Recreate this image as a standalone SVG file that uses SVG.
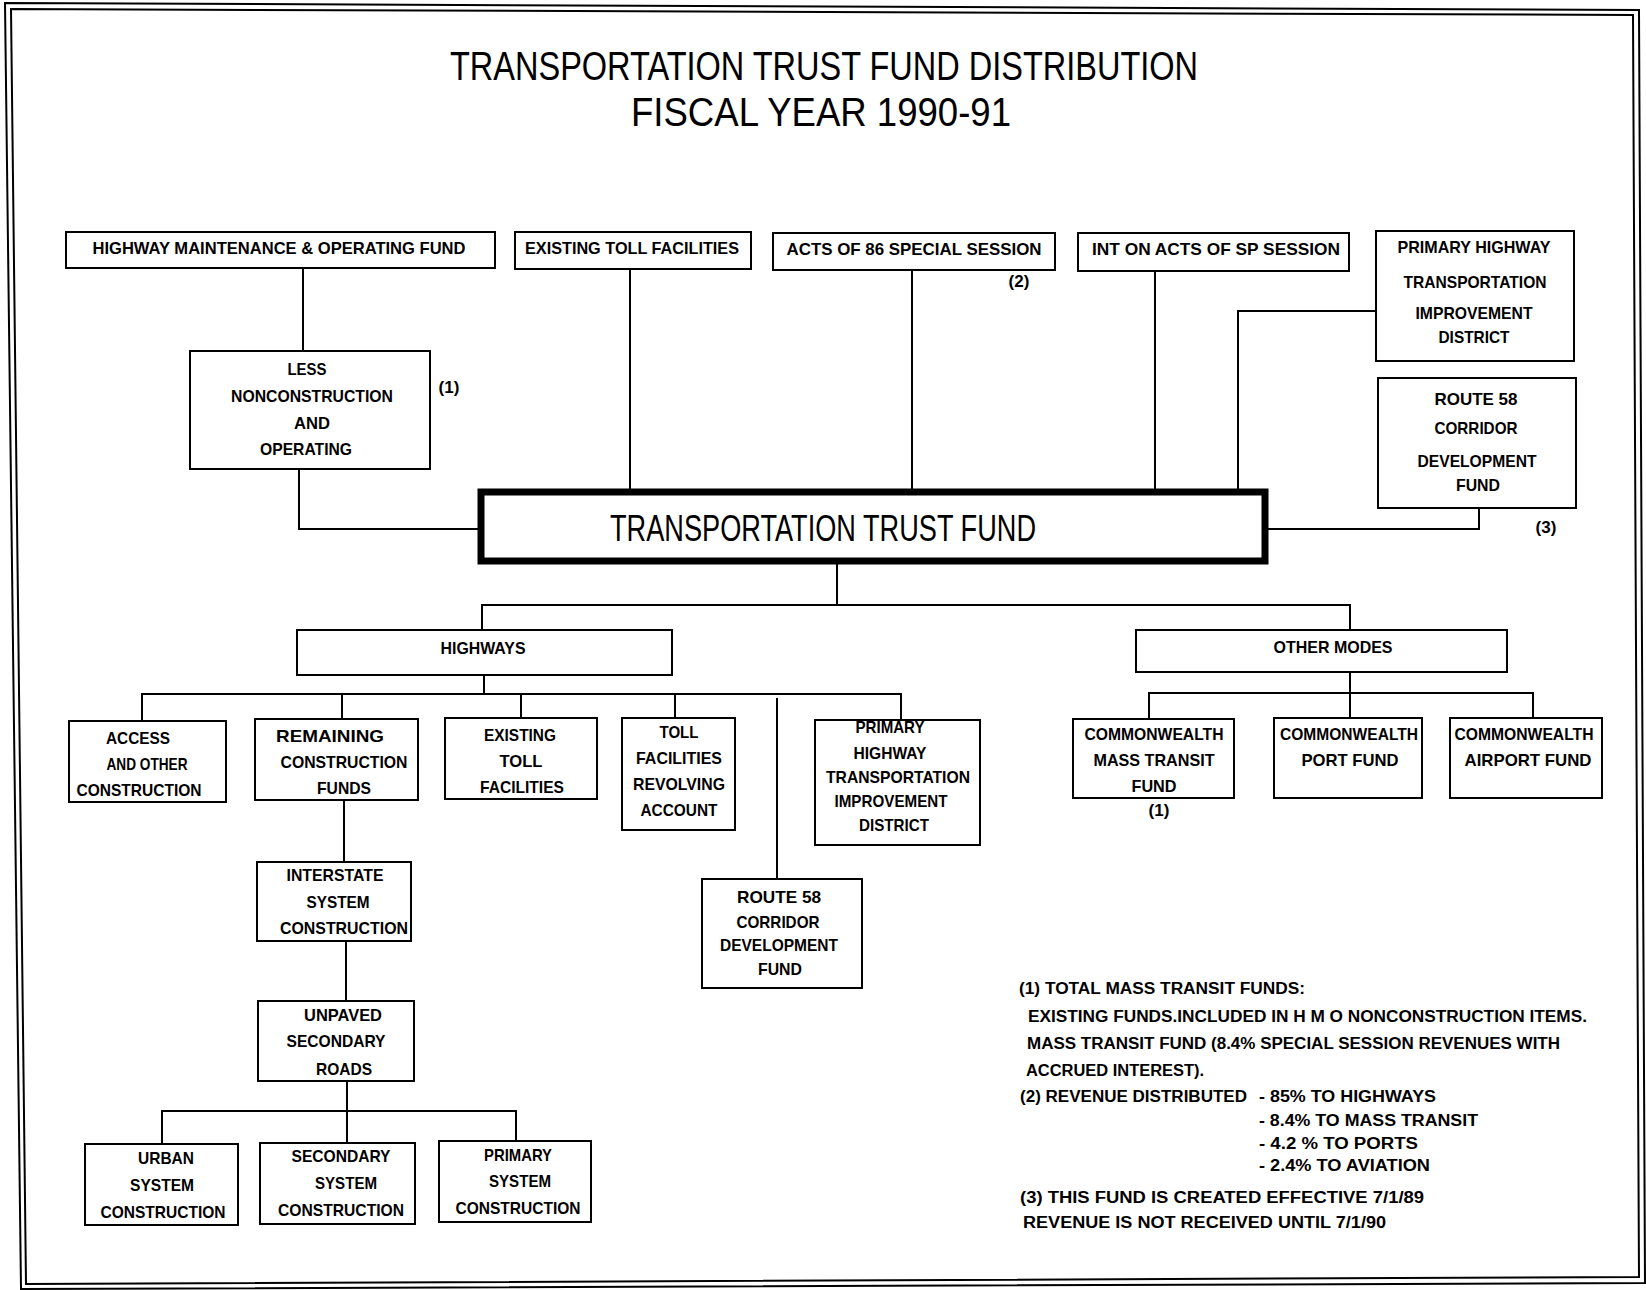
<svg xmlns="http://www.w3.org/2000/svg" width="1646" height="1290" viewBox="0 0 1646 1290">
<style>
.bx{fill:none;stroke:#000;stroke-width:2}
.c{fill:none;stroke:#000;stroke-width:2}
.t{font-family:"Liberation Sans",Arial,sans-serif;font-weight:bold;font-size:17px;text-anchor:middle;fill:#000}
.n{font-family:"Liberation Sans",Arial,sans-serif;font-weight:bold;font-size:16px;fill:#000}
.h{font-family:"Liberation Sans",Arial,sans-serif;font-size:40px;text-anchor:middle;fill:#000}
</style>
<rect width="1646" height="1290" fill="#fff"/>
<g id="border" fill="none" stroke="#000" stroke-width="2">
<polygon points="5,3 1639,10 1645,1283 21,1289"/>
<polygon points="11,9 1633,15 1639,1277 26,1284"/>
</g>
<g id="title">
<text class="h" x="824" y="80" textLength="748" lengthAdjust="spacingAndGlyphs">TRANSPORTATION TRUST FUND DISTRIBUTION</text>
<text class="h" x="821" y="126" textLength="380" lengthAdjust="spacingAndGlyphs">FISCAL YEAR 1990-91</text>
</g>
<g id="connectors">
<path class="c" d="M303 268V351"/>
<path class="c" d="M299 469V529H478"/>
<path class="c" d="M630 269V489"/>
<path class="c" d="M912 270V489"/>
<path class="c" d="M1155 271V489"/>
<path class="c" d="M1376 311H1238V489"/>
<path class="c" d="M1479 508V529H1268"/>
<path class="c" d="M837 564V605"/>
<path class="c" d="M482 630V605H1350V630"/>
<path class="c" d="M484 675V694"/>
<path class="c" d="M142 721V694H901V720"/>
<path class="c" d="M342 694V719"/>
<path class="c" d="M521 694V718"/>
<path class="c" d="M675 694V718"/>
<path class="c" d="M777 698V879"/>
<path class="c" d="M344 800V862"/>
<path class="c" d="M346 941V1001"/>
<path class="c" d="M347 1081V1143"/>
<path class="c" d="M162 1144V1111H516V1141"/>
<path class="c" d="M1350 672V718"/>
<path class="c" d="M1149 719V693H1533V718"/>
</g>
<g id="hmo"><rect class="bx" x="66" y="232" width="429" height="36"/><text class="t" x="279" y="254" textLength="373" lengthAdjust="spacingAndGlyphs">HIGHWAY MAINTENANCE &amp; OPERATING FUND</text></g>
<g id="etf"><rect class="bx" x="515" y="232" width="236" height="37"/><text class="t" x="632" y="254" textLength="214" lengthAdjust="spacingAndGlyphs">EXISTING TOLL FACILITIES</text></g>
<g id="acts"><rect class="bx" x="773" y="233" width="282" height="37"/><text class="t" x="914" y="255" textLength="255" lengthAdjust="spacingAndGlyphs">ACTS OF 86 SPECIAL SESSION</text><text class="t" x="1019" y="287">(2)</text></g>
<g id="int"><rect class="bx" x="1078" y="233" width="271" height="38"/><text class="t" x="1216" y="255" textLength="248" lengthAdjust="spacingAndGlyphs">INT ON ACTS OF SP SESSION</text></g>
<g id="phtid-top"><rect class="bx" x="1376" y="231" width="198" height="130"/>
<text class="t" x="1474" y="253" textLength="153" lengthAdjust="spacingAndGlyphs">PRIMARY HIGHWAY</text>
<text class="t" x="1475" y="288" textLength="143" lengthAdjust="spacingAndGlyphs">TRANSPORTATION</text>
<text class="t" x="1474" y="319" textLength="117" lengthAdjust="spacingAndGlyphs">IMPROVEMENT</text>
<text class="t" x="1474" y="343" textLength="71" lengthAdjust="spacingAndGlyphs">DISTRICT</text></g>
<g id="r58-top"><rect class="bx" x="1378" y="378" width="198" height="130"/>
<text class="t" x="1476" y="405" textLength="83" lengthAdjust="spacingAndGlyphs">ROUTE 58</text>
<text class="t" x="1476" y="434" textLength="83" lengthAdjust="spacingAndGlyphs">CORRIDOR</text>
<text class="t" x="1477" y="467" textLength="119" lengthAdjust="spacingAndGlyphs">DEVELOPMENT</text>
<text class="t" x="1478" y="491" textLength="44" lengthAdjust="spacingAndGlyphs">FUND</text>
<text class="t" x="1546" y="533">(3)</text></g>
<g id="less"><rect class="bx" x="190" y="351" width="240" height="118"/>
<text class="t" x="307" y="375" textLength="39" lengthAdjust="spacingAndGlyphs">LESS</text>
<text class="t" x="312" y="402" textLength="162" lengthAdjust="spacingAndGlyphs">NONCONSTRUCTION</text>
<text class="t" x="312" y="429" textLength="36" lengthAdjust="spacingAndGlyphs">AND</text>
<text class="t" x="306" y="455" textLength="92" lengthAdjust="spacingAndGlyphs">OPERATING</text>
<text class="t" x="449" y="393">(1)</text></g>
<g id="ttf"><rect x="481" y="492" width="784" height="69" fill="none" stroke="#000" stroke-width="7"/>
<text x="823" y="541" font-family="Liberation Sans, Arial, sans-serif" font-size="36" text-anchor="middle" textLength="426" lengthAdjust="spacingAndGlyphs">TRANSPORTATION TRUST FUND</text></g>
<g id="highways"><rect class="bx" x="297" y="630" width="375" height="45"/><text class="t" x="483" y="654" textLength="85" lengthAdjust="spacingAndGlyphs">HIGHWAYS</text></g>
<g id="othermodes"><rect class="bx" x="1136" y="630" width="371" height="42"/><text class="t" x="1333" y="653" textLength="119" lengthAdjust="spacingAndGlyphs">OTHER MODES</text></g>
<g id="access"><rect class="bx" x="69" y="721" width="157" height="81"/>
<text class="t" x="138" y="744" textLength="64" lengthAdjust="spacingAndGlyphs">ACCESS</text>
<text class="t" x="147" y="770" textLength="81" lengthAdjust="spacingAndGlyphs">AND OTHER</text>
<text class="t" x="139" y="796" textLength="125" lengthAdjust="spacingAndGlyphs">CONSTRUCTION</text></g>
<g id="remaining"><rect class="bx" x="255" y="719" width="163" height="81"/>
<text class="t" x="330" y="742" textLength="108" lengthAdjust="spacingAndGlyphs">REMAINING</text>
<text class="t" x="344" y="768" textLength="127" lengthAdjust="spacingAndGlyphs">CONSTRUCTION</text>
<text class="t" x="344" y="794" textLength="54" lengthAdjust="spacingAndGlyphs">FUNDS</text></g>
<g id="existing"><rect class="bx" x="445" y="718" width="152" height="81"/>
<text class="t" x="520" y="741" textLength="72" lengthAdjust="spacingAndGlyphs">EXISTING</text>
<text class="t" x="521" y="767" textLength="43" lengthAdjust="spacingAndGlyphs">TOLL</text>
<text class="t" x="522" y="793" textLength="84" lengthAdjust="spacingAndGlyphs">FACILITIES</text></g>
<g id="tollrev"><rect class="bx" x="622" y="718" width="113" height="112"/>
<text class="t" x="679" y="738" textLength="39" lengthAdjust="spacingAndGlyphs">TOLL</text>
<text class="t" x="679" y="764" textLength="86" lengthAdjust="spacingAndGlyphs">FACILITIES</text>
<text class="t" x="679" y="790" textLength="92" lengthAdjust="spacingAndGlyphs">REVOLVING</text>
<text class="t" x="679" y="816" textLength="77" lengthAdjust="spacingAndGlyphs">ACCOUNT</text></g>
<g id="phtid"><rect class="bx" x="815" y="720" width="165" height="125"/>
<text class="t" x="890" y="733" textLength="69" lengthAdjust="spacingAndGlyphs">PRIMARY</text>
<text class="t" x="890" y="759" textLength="73" lengthAdjust="spacingAndGlyphs">HIGHWAY</text>
<text class="t" x="898" y="783" textLength="144" lengthAdjust="spacingAndGlyphs">TRANSPORTATION</text>
<text class="t" x="891" y="807" textLength="113" lengthAdjust="spacingAndGlyphs">IMPROVEMENT</text>
<text class="t" x="894" y="831" textLength="70" lengthAdjust="spacingAndGlyphs">DISTRICT</text></g>
<g id="r58"><rect class="bx" x="702" y="879" width="160" height="109"/>
<text class="t" x="779" y="903" textLength="84" lengthAdjust="spacingAndGlyphs">ROUTE 58</text>
<text class="t" x="778" y="928" textLength="83" lengthAdjust="spacingAndGlyphs">CORRIDOR</text>
<text class="t" x="779" y="951" textLength="118" lengthAdjust="spacingAndGlyphs">DEVELOPMENT</text>
<text class="t" x="780" y="975" textLength="44" lengthAdjust="spacingAndGlyphs">FUND</text></g>
<g id="interstate"><rect class="bx" x="257" y="862" width="154" height="79"/>
<text class="t" x="335" y="881" textLength="97" lengthAdjust="spacingAndGlyphs">INTERSTATE</text>
<text class="t" x="338" y="908" textLength="63" lengthAdjust="spacingAndGlyphs">SYSTEM</text>
<text class="t" x="344" y="934" textLength="128" lengthAdjust="spacingAndGlyphs">CONSTRUCTION</text></g>
<g id="unpaved"><rect class="bx" x="258" y="1001" width="156" height="80"/>
<text class="t" x="343" y="1021" textLength="78" lengthAdjust="spacingAndGlyphs">UNPAVED</text>
<text class="t" x="336" y="1047" textLength="99" lengthAdjust="spacingAndGlyphs">SECONDARY</text>
<text class="t" x="344" y="1075" textLength="56" lengthAdjust="spacingAndGlyphs">ROADS</text></g>
<g id="urban"><rect class="bx" x="85" y="1144" width="153" height="81"/>
<text class="t" x="166" y="1164" textLength="56" lengthAdjust="spacingAndGlyphs">URBAN</text>
<text class="t" x="162" y="1191" textLength="64" lengthAdjust="spacingAndGlyphs">SYSTEM</text>
<text class="t" x="163" y="1218" textLength="125" lengthAdjust="spacingAndGlyphs">CONSTRUCTION</text></g>
<g id="secondary"><rect class="bx" x="260" y="1143" width="155" height="81"/>
<text class="t" x="341" y="1162" textLength="99" lengthAdjust="spacingAndGlyphs">SECONDARY</text>
<text class="t" x="346" y="1189" textLength="62" lengthAdjust="spacingAndGlyphs">SYSTEM</text>
<text class="t" x="341" y="1216" textLength="126" lengthAdjust="spacingAndGlyphs">CONSTRUCTION</text></g>
<g id="primary"><rect class="bx" x="439" y="1141" width="152" height="81"/>
<text class="t" x="518" y="1161" textLength="68" lengthAdjust="spacingAndGlyphs">PRIMARY</text>
<text class="t" x="520" y="1187" textLength="62" lengthAdjust="spacingAndGlyphs">SYSTEM</text>
<text class="t" x="518" y="1214" textLength="125" lengthAdjust="spacingAndGlyphs">CONSTRUCTION</text></g>
<g id="masstransit"><rect class="bx" x="1073" y="719" width="161" height="79"/>
<text class="t" x="1154" y="740" textLength="139" lengthAdjust="spacingAndGlyphs">COMMONWEALTH</text>
<text class="t" x="1154" y="766" textLength="121" lengthAdjust="spacingAndGlyphs">MASS TRANSIT</text>
<text class="t" x="1154" y="792" textLength="45" lengthAdjust="spacingAndGlyphs">FUND</text>
<text class="t" x="1159" y="816">(1)</text></g>
<g id="port"><rect class="bx" x="1274" y="718" width="148" height="80"/>
<text class="t" x="1349" y="740" textLength="138" lengthAdjust="spacingAndGlyphs">COMMONWEALTH</text>
<text class="t" x="1350" y="766" textLength="97" lengthAdjust="spacingAndGlyphs">PORT FUND</text></g>
<g id="airport"><rect class="bx" x="1450" y="718" width="152" height="80"/>
<text class="t" x="1524" y="740" textLength="139" lengthAdjust="spacingAndGlyphs">COMMONWEALTH</text>
<text class="t" x="1528" y="766" textLength="127" lengthAdjust="spacingAndGlyphs">AIRPORT FUND</text></g>
<g id="notes">
<text class="n" x="1019" y="994" textLength="286" lengthAdjust="spacingAndGlyphs">(1) TOTAL MASS TRANSIT FUNDS:</text>
<text class="n" x="1028" y="1022" textLength="559" lengthAdjust="spacingAndGlyphs">EXISTING FUNDS.INCLUDED IN H M O  NONCONSTRUCTION ITEMS.</text>
<text class="n" x="1027" y="1049" textLength="533" lengthAdjust="spacingAndGlyphs">MASS TRANSIT FUND (8.4% SPECIAL SESSION REVENUES WITH</text>
<text class="n" x="1026" y="1076" textLength="178" lengthAdjust="spacingAndGlyphs">ACCRUED INTEREST).</text>
<text class="n" x="1020" y="1102" textLength="227" lengthAdjust="spacingAndGlyphs">(2) REVENUE DISTRIBUTED</text>
<text class="n" x="1259" y="1102" textLength="177" lengthAdjust="spacingAndGlyphs">- 85% TO HIGHWAYS</text>
<text class="n" x="1259" y="1126" textLength="219" lengthAdjust="spacingAndGlyphs">- 8.4% TO MASS TRANSIT</text>
<text class="n" x="1259" y="1149" textLength="159" lengthAdjust="spacingAndGlyphs">- 4.2 % TO PORTS</text>
<text class="n" x="1259" y="1171" textLength="171" lengthAdjust="spacingAndGlyphs">- 2.4% TO AVIATION</text>
<text class="n" x="1020" y="1203" textLength="404" lengthAdjust="spacingAndGlyphs">(3) THIS FUND IS CREATED EFFECTIVE 7/1/89</text>
<text class="n" x="1023" y="1228" textLength="363" lengthAdjust="spacingAndGlyphs">REVENUE IS NOT RECEIVED UNTIL 7/1/90</text>
</g>
</svg>
